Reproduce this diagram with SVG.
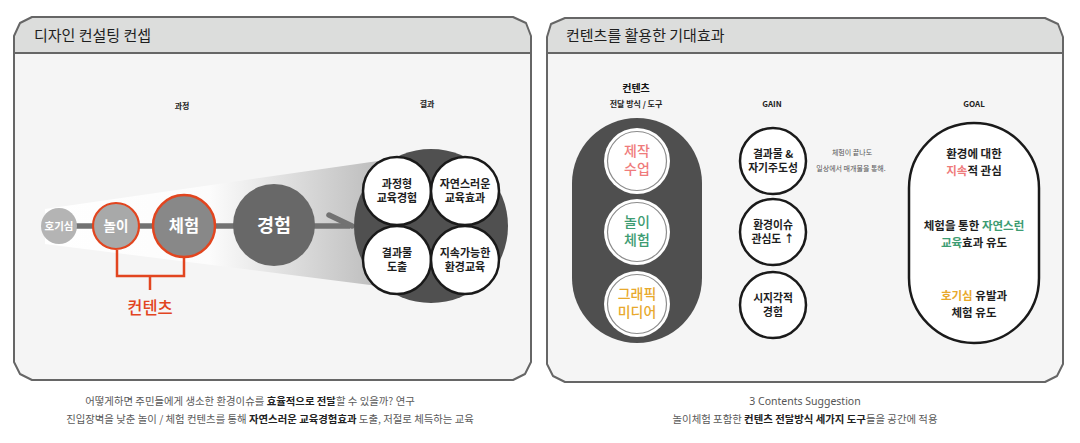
<svg xmlns="http://www.w3.org/2000/svg" width="1080" height="443" viewBox="0 0 1080 443">
<style>
.kr{font-family:"Noto Sans CJK KR","Noto Sans",sans-serif}
.title{font-size:15px;fill:#1e1e1e}
.frame{fill:none;stroke:#666;stroke-width:2;stroke-linejoin:round}
.hdr{fill:#dcdddc}
.body{fill:#f5f5f5}
.lbl{font-size:8px;font-weight:bold;fill:#222;text-anchor:middle}
.wt{fill:#fff;font-weight:bold;text-anchor:middle}
.ct{font-size:11px;font-weight:bold;fill:#1e1e1e;text-anchor:middle}
.cap{font-size:10.4px;fill:#5a5a5a}
.cap tspan.b{font-weight:bold;fill:#222}
.res{fill:#fff;stroke:#1a1a1a;stroke-width:2.5}
.tool{fill:#fff}
.toolin{fill:#fff;stroke:#8c8c8c;stroke-width:1.2}
.tt{font-size:14px;font-weight:500;text-anchor:middle}
.gain{fill:#fff;stroke:#1a1a1a;stroke-width:2.5}
.gt{font-size:10.8px;font-weight:bold;fill:#1e1e1e;text-anchor:middle}
.goalt{font-size:11.5px;font-weight:bold;fill:#1e1e1e;text-anchor:middle}
.conn{stroke:#3a3a3a;stroke-width:2;fill:none}
.red{stroke:#e2451f;stroke-width:2.5;fill:none}
.small{font-size:7px;fill:#555;text-anchor:middle}
.pink{fill:#ef7b7b}.green{fill:#3d9c72}.orange{fill:#e8a92c}
</style>
<defs>
<linearGradient id="cone" x1="40" y1="0" x2="378" y2="0" gradientUnits="userSpaceOnUse">
<stop offset="0" stop-color="#ffffff"/>
<stop offset="0.5" stop-color="#fcfcfc"/>
<stop offset="1" stop-color="#bdbdbd"/>
</linearGradient>
</defs>
<rect width="1080" height="443" fill="#fff"/>

<g id="panel-left">
<path class="body" d="M32,17 L513,17 L526,23 L531,36 L531,362 L525,374 L513,380 L32,380 L20,374 L14,362 L14,36 L20,23 Z"/>
<path class="hdr" d="M32,17 L513,17 L526,23 L531,36 L531,53 L14,53 L14,36 L20,23 Z"/>
<path class="frame" d="M32,17 L513,17 L526,23 L531,36 L531,362 L525,374 L513,380 L32,380 L20,374 L14,362 L14,36 L20,23 Z"/>
<line x1="14" y1="53" x2="531" y2="53" stroke="#666" stroke-width="2"/>
<text class="kr title" x="34" y="41">디자인 컨설팅 컨셉</text>
<text class="kr lbl" x="182" y="109">과정</text>
<text class="kr lbl" x="427" y="107">결과</text>
<polygon points="45,209 378,161 378,286 45,244" fill="url(#cone)"/>
</g>

<g id="connectors">
<line x1="70" y1="226" x2="350" y2="226" stroke="#727272" stroke-width="5.5"/>
<line x1="329" y1="215" x2="352" y2="226" stroke="#727272" stroke-width="5.5" stroke-linecap="round"/>
<polyline class="red" points="117,250 117,276 184,276 184,257"/>
<line class="red" x1="150" y1="276" x2="150" y2="290"/>
<line class="conn" x1="669" y1="160" x2="740" y2="160"/>
<line class="conn" x1="669" y1="232" x2="740" y2="232"/>
<line class="conn" x1="669" y1="304" x2="740" y2="304"/>
<line class="conn" x1="806" y1="160" x2="904" y2="160"/>
<polyline class="conn" points="890,151 904,160"/>
<line class="conn" x1="806" y1="232" x2="904" y2="232"/>
<polyline class="conn" points="890,223 904,232"/>
<line class="conn" x1="806" y1="304" x2="904" y2="304"/>
<polyline class="conn" points="890,295 904,304"/>
</g>

<g id="node-curiosity">
<circle cx="59" cy="226" r="18" fill="#b4b4b4"/>
<text class="kr wt" x="59" y="230" font-size="10.5">호기심</text>
</g>
<g id="node-play">
<circle cx="116" cy="226" r="23" fill="#a8a9a9" stroke="#e2451f" stroke-width="2.2"/>
<text class="kr wt" x="116" y="231" font-size="13.5" font-weight="500">놀이</text>
</g>
<g id="node-experience1">
<circle cx="184" cy="226" r="31" fill="#888" stroke="#e2451f" stroke-width="2.5"/>
<text class="kr wt" x="184" y="232" font-size="16.5">체험</text>
</g>
<g id="node-experience2">
<circle cx="274" cy="225" r="41" fill="#686868"/>
<text class="kr wt" x="274" y="232" font-size="18.5">경험</text>
</g>
<g id="node-contents-label">
<text class="kr" x="150" y="314" font-size="16.5" fill="#e2451f" text-anchor="middle" font-weight="500">컨텐츠</text>
</g>

<g id="node-result">
<circle cx="431" cy="226" r="77" fill="#505050"/>
<circle class="res" cx="397" cy="191" r="34"/>
<circle class="res" cx="465" cy="191" r="34"/>
<circle class="res" cx="397" cy="260" r="34"/>
<circle class="res" cx="465" cy="260" r="34"/>
<text class="kr ct" x="397" y="188">과정형<tspan x="397" dy="14">교육경험</tspan></text>
<text class="kr ct" x="465" y="188">자연스러운<tspan x="465" dy="14">교육효과</tspan></text>
<text class="kr ct" x="397" y="257">결과물<tspan x="397" dy="14">도출</tspan></text>
<text class="kr ct" x="465" y="257">지속가능한<tspan x="465" dy="14">환경교육</tspan></text>
</g>

<g id="caption-left">
<text class="kr cap" x="250" y="405" text-anchor="middle">어떻게하면 주민들에게 생소한 환경이슈를 <tspan class="b">효율적으로 전달</tspan>할 수 있을까? 연구</text>
<text class="kr cap" x="270" y="423" text-anchor="middle">진입장벽을 낮춘 놀이 / 체험 컨텐츠를 통해 <tspan class="b">자연스러운 교육경험효과</tspan> 도출, 저절로 체득하는 교육</text>
</g>

<g id="panel-right">
<path class="body" d="M565,18 L1045,18 L1058,24 L1063,37 L1063,364 L1057,376 L1045,382 L565,382 L553,376 L547,364 L547,37 L551,24 Z"/>
<path class="hdr" d="M565,18 L1045,18 L1058,24 L1063,37 L1063,53 L547,53 L547,37 L551,24 Z"/>
<path class="frame" d="M565,18 L1045,18 L1058,24 L1063,37 L1063,364 L1057,376 L1045,382 L565,382 L553,376 L547,364 L547,37 L551,24 Z"/>
<line x1="547" y1="53" x2="1063" y2="53" stroke="#666" stroke-width="2"/>
<text class="kr title" x="566" y="41">컨텐츠를 활용한 기대효과</text>
<text class="kr" x="636" y="92" font-size="10" font-weight="bold" fill="#111" text-anchor="middle">컨텐츠</text>
<text class="kr lbl" x="636" y="107" font-weight="500">전달 방식 / 도구</text>
<text class="kr lbl" x="772" y="107" font-weight="500">GAIN</text>
<text class="kr lbl" x="974" y="107" font-weight="500">GOAL</text>
</g>

<g id="node-tools">
<rect x="572" y="118" width="130" height="225" rx="65" fill="#4f4f4f"/>
</g>
<g id="node-tool-class">
<circle class="tool" cx="637" cy="161" r="33"/>
<circle class="toolin" cx="637" cy="161" r="29.5"/>
<text class="kr tt pink" x="637" y="156">제작<tspan x="637" dy="18">수업</tspan></text>
</g>
<g id="node-tool-play">
<circle class="tool" cx="637" cy="232" r="33"/>
<circle class="toolin" cx="637" cy="232" r="29.5"/>
<text class="kr tt green" x="637" y="227">놀이<tspan x="637" dy="18">체험</tspan></text>
</g>
<g id="node-tool-media">
<circle class="tool" cx="637" cy="304" r="33"/>
<circle class="toolin" cx="637" cy="304" r="29.5"/>
<text class="kr tt orange" x="637" y="299">그래픽<tspan x="637" dy="18">미디어</tspan></text>
</g>

<g id="node-gain-1">
<circle class="gain" cx="773" cy="161" r="33"/>
<text class="kr gt" x="773" y="158">결과물 &amp;<tspan x="773" dy="14">자기주도성</tspan></text>
</g>
<g id="node-gain-2">
<circle class="gain" cx="773" cy="232" r="33"/>
<text class="kr gt" x="773" y="229">환경이슈<tspan x="773" dy="14">관심도 ↑</tspan></text>
</g>
<g id="node-gain-3">
<circle class="gain" cx="773" cy="305" r="33"/>
<text class="kr gt" x="773" y="302">시지각적<tspan x="773" dy="14">경험</tspan></text>
</g>
<g id="label-note">
<text class="kr small" x="852" y="155">체험이 끝나도</text>
<text class="kr small" x="851" y="171">일상에서 매개물을 통해.</text>
</g>

<g id="node-goal">
<rect x="909" y="123" width="130" height="220" rx="65" fill="#fff" stroke="#1a1a1a" stroke-width="2.5"/>
<text class="kr goalt" x="974" y="158">환경에 대한<tspan x="974" dy="17"><tspan class="pink">지속</tspan>적 관심</tspan></text>
<text class="kr goalt" x="974" y="230">체험을 통한 <tspan class="green">자연스런</tspan><tspan x="974" dy="17"><tspan class="green">교육</tspan>효과 유도</tspan></text>
<text class="kr goalt" x="974" y="300"><tspan class="orange">호기심</tspan> 유발과<tspan x="974" dy="17">체험 유도</tspan></text>
</g>

<g id="caption-right">
<text x="805" y="405" font-family="'Noto Sans','Open Sans',sans-serif" font-size="10.5" fill="#555" text-anchor="middle">3 Contents Suggestion</text>
<text class="kr cap" x="805" y="423" text-anchor="middle">놀이체험 포함한 <tspan class="b">컨텐츠 전달방식 세가지 도구</tspan>들을 공간에 적용</text>
</g>
</svg>
